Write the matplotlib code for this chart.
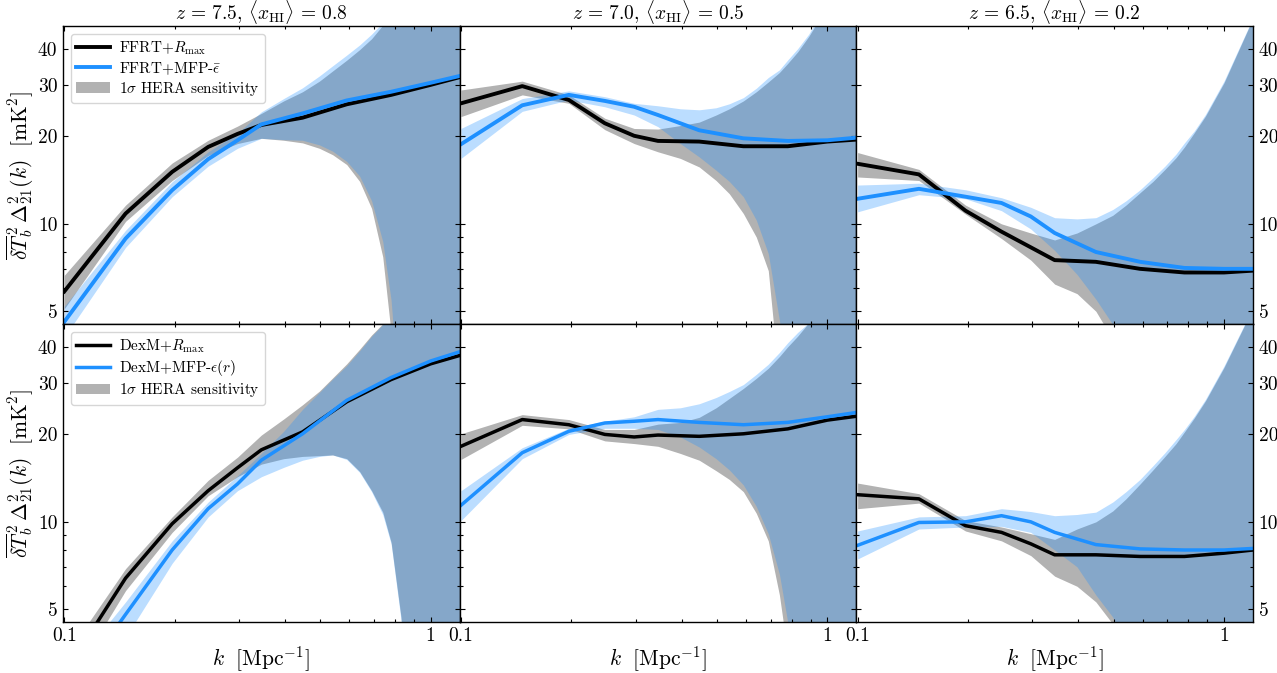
#!/usr/bin/env python3
"""Six panel 21-cm power spectrum comparison with HERA sensitivity bands."""

import matplotlib
matplotlib.use("Agg")
import matplotlib.pyplot as plt
from matplotlib.ticker import NullFormatter

plt.rcParams['font.family'] = 'serif'
plt.rcParams['font.serif'] = ['cmr10', 'DejaVu Serif']
plt.rcParams['mathtext.fontset'] = 'cm'
plt.rcParams['axes.unicode_minus'] = False
plt.rcParams['axes.formatter.use_mathtext'] = True

# k nodes of the curves and of the sensitivity bands
k_line = [0.1, 0.147, 0.197, 0.247, 0.297, 0.345, 0.447, 0.59, 0.78, 1.0, 1.2]
k_band = [0.1, 0.147, 0.197, 0.247, 0.297, 0.345, 0.397, 0.447, 0.497, 0.54,
          0.59, 0.64, 0.69, 0.74, 0.78, 0.83, 0.89, 1.0, 1.2]

titles = [r"$z\,=\,7.5,\,\langle x_{\rm HI}\rangle\,=\,0.8$",
          r"$z\,=\,7.0,\,\langle x_{\rm HI}\rangle\,=\,0.5$",
          r"$z\,=\,6.5,\,\langle x_{\rm HI}\rangle\,=\,0.2$"]

# top row, z = 7.5
black_a = [5.85, 10.85, 15.1, 18.4, 20.4, 21.9, 23.2, 25.8, 27.8, 30.1, 32.0]
blue_a = [4.6, 8.9, 13.06, 16.7, 19.4, 22.0, 24.0, 26.6, 28.5, 30.6, 32.3]
gray_up_a = [6.65, 11.6, 16.2, 19.4, 21.7, 24.0, 26.5, 28.5, 31, 33.6, 36.6, 39.8, 43.4, 48.3, 52.7, 58, 66, 85, 125]
gray_lo_a = [5.1, 10.2, 14.1, 17.2, 18.9, 19.7, 19.4, 19.0, 18.2, 17.3, 16, 14, 11.3, 7.7, 4.2, 1.5, 1, 1, 1]
blue_up_a = [5.2, 9.5, 13.96, 17.7, 20.5, 24.3, 27, 29.4, 32.3, 35, 38.1, 41.3, 45, 49.3, 53.4, 59, 67, 86, 126]
blue_lo_a = [4.07, 8.3, 12.4, 15.8, 18.2, 19.7, 19.5, 19.4, 18.7, 17.8, 16.4, 14.6, 12, 8.7, 5.45, 2, 1, 1, 1]

# top row, z = 7.0
black_b = [26.0, 29.8, 26.7, 22.2, 20.1, 19.3, 19.2, 18.5, 18.5, 19.2, 19.5]
blue_b = [18.8, 25.6, 27.8, 26.5, 25.3, 23.7, 21.0, 19.7, 19.3, 19.4, 19.8]
gray_up_b = [28.9, 31, 27.8, 23.1, 21.3, 21.2, 21.8, 22.4, 23.7, 24.9, 26.5, 28.5, 30.8, 33.2, 35.7, 39.1, 44.2, 56.3, 90]
gray_lo_b = [23.4, 27.8, 26, 21.1, 18.9, 17.7, 16.8, 15.7, 14.1, 12.7, 10.85, 9.0, 6.9, 2.8, 2, 1.5, 1, 1, 1]
blue_up_b = [21.3, 27, 28.7, 27.4, 26, 25.5, 24.9, 24.7, 25.1, 25.9, 27.2, 29.3, 31.9, 33.9, 36.7, 40.1, 45, 57.7, 90]
blue_lo_b = [16.8, 24.4, 26.7, 25.3, 23.7, 21.6, 18.9, 17, 15.3, 14, 12.4, 10.3, 7.9, 4.65, 3, 1.5, 1, 1, 1]

# top row, z = 6.5
black_c = [16.1, 14.8, 11.1, 9.4, 8.3, 7.5, 7.4, 7.0, 6.8, 6.8, 6.9]
blue_c = [12.2, 13.2, 12.4, 11.8, 10.6, 9.3, 8.0, 7.4, 7.05, 7.0, 7.0]
gray_up_c = [17.6, 15.4, 11.6, 10, 9.3, 8.8, 9.3, 10, 10.7, 11.6, 12.8, 14, 15.4, 16.9, 18.4, 20.6, 23.5, 30.6, 51]
gray_lo_c = [14.5, 14.1, 10.8, 8.9, 7.5, 6.2, 5.75, 5, 4, 3.2, 2.5, 2, 1.5, 1, 1, 1, 1, 1, 1]
blue_up_c = [13.6, 13.8, 13.1, 12.3, 11.4, 10.5, 10.4, 10.5, 11.2, 12, 13.1, 14.4, 15.8, 17.4, 19, 20.9, 23.8, 31, 51.3]
blue_lo_c = [11, 12.6, 12.2, 11.1, 9.6, 8.1, 6.7, 5.5, 4.5, 3.5, 2.6, 2, 1.5, 1, 1, 1, 1, 1, 1]

# bottom row, z = 7.5
black_d = [3.0, 6.4, 9.85, 12.8, 15.35, 17.7, 20.4, 25.9, 30.9, 35.0, 37.4]
blue_d = [2.43, 4.8, 8.0, 11.1, 13.5, 16.3, 20.1, 26.2, 31.4, 35.8, 38.5]
gray_up_d = [3.4, 6.9, 10.4, 13.9, 16.7, 19.9, 22.6, 25.3, 28.2, 31.3, 35, 39.3, 44, 48.1, 52, 58, 66, 85, 120]
gray_lo_d = [2.6, 5.8, 9.2, 12.3, 14.3, 15.8, 16.5, 16.8, 16.9, 17, 16.5, 14.9, 12.8, 10.8, 8.5, 4.7, 1.5, 1, 1]
blue_up_d = [2.9, 5.3, 8.6, 11.7, 14.4, 17.2, 20.5, 24.4, 27.9, 31, 34.5, 38.8, 43.6, 47.8, 52, 58, 66, 85, 120]
blue_lo_d = [2.2, 4, 7.2, 10.4, 12.8, 14.3, 15.4, 16.3, 16.8, 17, 16.4, 14.8, 12.7, 10.6, 8.4, 4.6, 1.5, 1, 1]

# bottom row, z = 7.0
black_e = [18.2, 22.5, 21.6, 20.0, 19.6, 19.9, 19.7, 20.1, 20.9, 22.4, 23.1]
blue_e = [11.4, 17.3, 20.5, 21.9, 22.2, 22.5, 22.0, 21.6, 22.0, 23.0, 23.8]
gray_up_e = [20.1, 23.4, 22.5, 20.8, 20.8, 21.7, 22, 22.9, 24.7, 26.6, 28.8, 31.2, 33.8, 37.1, 40.1, 43.6, 48.5, 57, 95]
gray_lo_e = [16.4, 21.5, 20.9, 19, 18.6, 18.2, 17.2, 16.3, 15, 14, 12.7, 10.7, 8.6, 5.6, 3.5, 1.6, 1, 1, 1]
blue_up_e = [12.8, 18, 21, 22.2, 23, 24.4, 24.7, 25.5, 26.8, 28.1, 29.7, 32.2, 34.9, 38.3, 41.4, 44.9, 48.5, 57.8, 95]
blue_lo_e = [10.1, 16.5, 20, 21, 21, 20.8, 19.6, 18.1, 16.5, 15.1, 13.4, 11.3, 9.1, 6.6, 4.5, 2, 1, 1, 1]

# bottom row, z = 6.5
black_f = [12.4, 12.0, 9.7, 9.2, 8.4, 7.7, 7.7, 7.6, 7.6, 7.8, 8.0]
blue_f = [8.3, 9.95, 10.0, 10.5, 10.0, 9.2, 8.35, 8.07, 8.0, 8.0, 8.1]
gray_up_f = [13.6, 12.5, 10.1, 9.6, 9.1, 8.7, 9.45, 10, 10.9, 12, 13.5, 15.1, 16.8, 18.6, 20.4, 22.8, 26.1, 34, 54.5]
gray_lo_f = [11.1, 11.6, 9.3, 8.6, 7.65, 6.5, 6, 5.3, 4.45, 3.6, 2.8, 2, 1.5, 1, 1, 1, 1, 1, 1]
blue_up_f = [9.3, 10.4, 10.5, 11.1, 10.85, 10.5, 10.6, 10.8, 11.7, 12.7, 14, 15.6, 17.3, 19.2, 20.8, 23.1, 26.4, 34.4, 54.8]
blue_lo_f = [7.45, 9.45, 9.6, 9.65, 9.2, 8, 7, 5.6, 4.7, 3.7, 2.9, 2.1, 1.5, 1, 1, 1, 1, 1, 1]

panels = [
    (black_a, blue_a, gray_up_a, gray_lo_a, blue_up_a, blue_lo_a),
    (black_b, blue_b, gray_up_b, gray_lo_b, blue_up_b, blue_lo_b),
    (black_c, blue_c, gray_up_c, gray_lo_c, blue_up_c, blue_lo_c),
    (black_d, blue_d, gray_up_d, gray_lo_d, blue_up_d, blue_lo_d),
    (black_e, blue_e, gray_up_e, gray_lo_e, blue_up_e, blue_lo_e),
    (black_f, blue_f, gray_up_f, gray_lo_f, blue_up_f, blue_lo_f),
]

legend_labels = [
    ["FFRT+$R_{\\rm max}$", "FFRT+MFP-$\\bar{\\epsilon}$", "1$\\sigma$ HERA sensitivity"],
    ["DexM+$R_{\\rm max}$", "DexM+MFP-$\\epsilon(r)$", "1$\\sigma$ HERA sensitivity"],
]
ylabel = r"$\overline{\delta T}_b^{\,2}\,\Delta^2_{21}(k)\ \ [\rm mK^2]$"
xlabel = r"$k\ \ [\rm Mpc^{-1}]$"

fig, axes = plt.subplots(2, 3, figsize=(12.77, 6.73), dpi=100, sharey=False)
fig.subplots_adjust(left=63 / 1277, right=1253 / 1277, top=1 - 26 / 673,
                    bottom=1 - 622 / 673, wspace=0, hspace=0)

for i, ax in enumerate(axes.flat):
    black, blue, gray_up, gray_lo, blue_up, blue_lo = panels[i]
    row, col = i // 3, i % 3
    lw = 2.8 if row == 0 else 2.5

    band_gray = ax.fill_between(k_band, gray_lo, gray_up, color='k', alpha=0.3, lw=0)
    ax.fill_between(k_band, blue_lo, blue_up, color='dodgerblue', alpha=0.3, lw=0)
    line_black, = ax.plot(k_line, black, color='k', lw=lw)
    line_blue, = ax.plot(k_line, blue, color='dodgerblue', lw=lw)

    ax.set_xscale('log')
    ax.set_yscale('log')
    ax.set_xlim(0.0992, 1.2)
    ax.set_ylim(4.52, 48)

    ax.set_xticks([0.1, 1])
    ax.set_xticklabels(["0.1", "1"])
    ax.set_xticks([0.2, 0.3, 0.4, 0.5, 0.6, 0.7, 0.8, 0.9], minor=True)
    ax.xaxis.set_minor_formatter(NullFormatter())
    ax.set_yticks([5, 10, 20, 30, 40])
    ax.set_yticklabels(["5", "10", "20", "30", "40"])
    ax.set_yticks([6, 7, 8, 9], minor=True)
    ax.yaxis.set_minor_formatter(NullFormatter())

    ax.tick_params(which='both', direction='in', top=True, right=True, width=0.8)
    ax.tick_params(which='major', length=3.5, labelsize=14)
    ax.tick_params(which='minor', length=2)
    ax.tick_params(axis='y', labelleft=col == 0, labelright=col == 2, pad=4)
    ax.tick_params(axis='x', labelbottom=row == 1, pad=4)
    for spine in ax.spines.values():
        spine.set_linewidth(1.0)

    if row == 0:
        ax.set_title(titles[col], fontsize=14, pad=5)
        ax.set_xlabel("")
    else:
        ax.set_xlabel(xlabel, fontsize=15.5, labelpad=-1)
    if col == 0:
        ax.set_ylabel(ylabel, fontsize=15.5, labelpad=1)
        ax.legend([line_black, line_blue, band_gray], legend_labels[row],
                  loc='upper left', fontsize=11, handlelength=2.2,
                  handletextpad=0.6, labelspacing=0.22, borderpad=0.35,
                  borderaxespad=0.5)

fig.savefig("out.png", dpi=100)
